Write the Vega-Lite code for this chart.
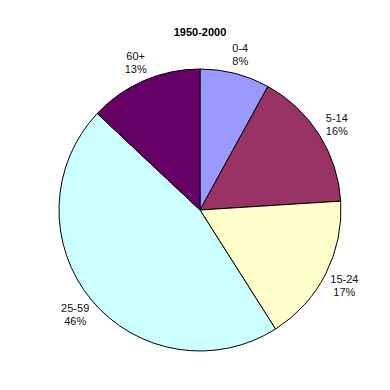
{
  "$schema": "https://vega.github.io/schema/vega-lite/v6.json",
  "autosize": "none",
  "width": 380,
  "height": 360,
  "padding": {"left": 10, "top": 30, "right": 0, "bottom": 0},
  "background": "white",
  "title": {"text": "1950-2000", "font": "Liberation Sans", "fontSize": 11, "fontWeight": "bold", "color": "black", "anchor": "middle", "frame": "group", "offset": -8},
  "data": {"values": [
    {"group": "0-4", "pct": 8, "rank": 1, "label": "0-4\n8%"},
    {"group": "5-14", "pct": 16, "rank": 2, "label": "5-14\n16%"},
    {"group": "15-24", "pct": 17, "rank": 3, "label": "15-24\n17%"},
    {"group": "25-59", "pct": 46, "rank": 4, "label": "25-59\n46%"},
    {"group": "60+", "pct": 13, "rank": 5, "label": "60+\n13%"}
  ]},
  "encoding": {
    "theta": {"field": "pct", "type": "quantitative", "stack": true},
    "order": {"field": "rank", "type": "quantitative"}
  },
  "layer": [
    {
      "mark": {"type": "arc", "radius": 141, "stroke": "black", "strokeWidth": 1},
      "encoding": {
        "color": {"field": "group", "type": "nominal", "legend": null,
          "scale": {"domain": ["0-4", "5-14", "15-24", "25-59", "60+"], "range": ["#9999FF", "#993366", "#FFFFCC", "#CCFFFF", "#660066"]}}
      }
    },
    {
      "mark": {"type": "text", "radius": 162, "dy": -4, "font": "Liberation Sans", "fontSize": 11, "color": "#111111", "lineBreak": "\n", "lineHeight": 13, "baseline": "middle", "align": "center"},
      "encoding": {"text": {"field": "label", "type": "nominal"}}
    }
  ],
  "config": {"view": {"stroke": null}}
}
